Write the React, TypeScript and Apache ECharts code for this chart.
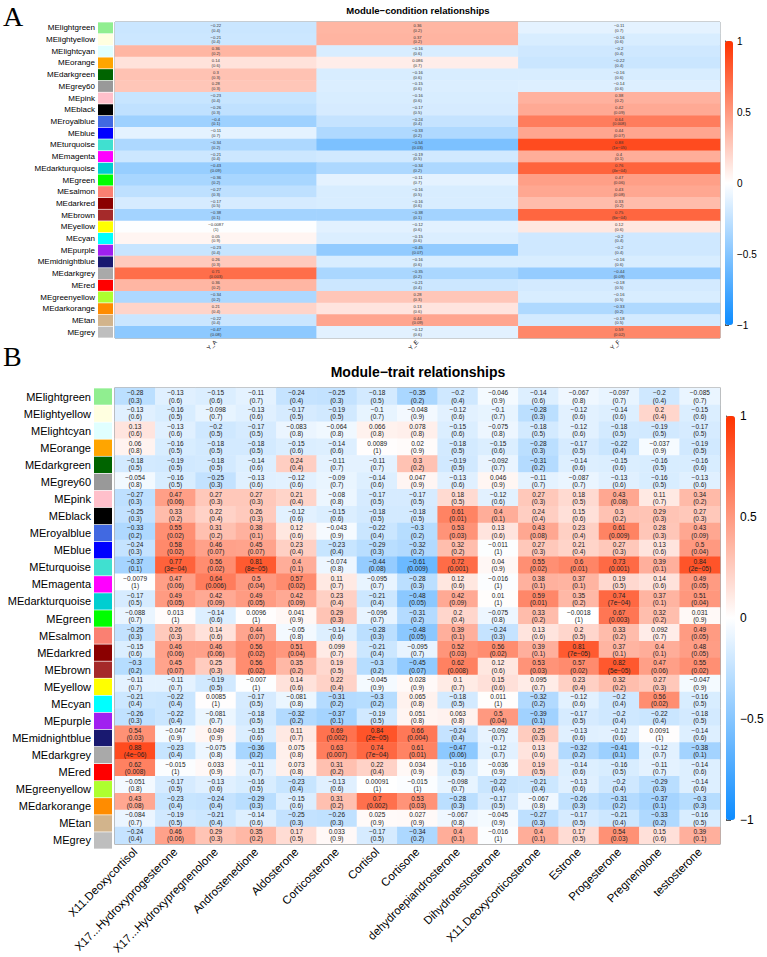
import React, { useEffect, useRef } from "react";
import * as echarts from "echarts";

// Module eigengenes (rows) and their colour swatches
const modules = [
  "MElightgreen", "MElightyellow", "MElightcyan", "MEorange", "MEdarkgreen", "MEgrey60",
  "MEpink", "MEblack", "MEroyalblue", "MEblue", "MEturquoise", "MEmagenta",
  "MEdarkturquoise", "MEgreen", "MEsalmon", "MEdarkred", "MEbrown", "MEyellow",
  "MEcyan", "MEpurple", "MEmidnightblue", "MEdarkgrey", "MEred", "MEgreenyellow",
  "MEdarkorange", "MEtan", "MEgrey",
];
const moduleColors = [
  "#90EE90", "#FFFFE0", "#E0FFFF", "#FFA500", "#006400", "#999999",
  "#FFC0CB", "#000000", "#4169E1", "#0000FF", "#40E0D0", "#FF00FF",
  "#00CED1", "#00FF00", "#FA8072", "#8B0000", "#A52A2A", "#FFFF00",
  "#00FFFF", "#A020F0", "#191970", "#A9A9A9", "#FF0000", "#ADFF2F",
  "#FF8C00", "#D2B48C", "#BEBEBE",
];

// Panel A: module-condition correlations and p-values
const conditions = ["Y_A", "Y_E", "Y_F"];
const conditionCor: number[][] = [
  [-0.22, 0.36, -0.11], [-0.21, 0.37, -0.16], [0.36, -0.16, -0.2], [0.14, 0.086, -0.22],
  [0.3, -0.16, -0.16], [0.28, -0.15, -0.14], [-0.23, -0.16, 0.38], [-0.26, -0.17, 0.42],
  [-0.4, -0.24, 0.64], [-0.11, -0.33, 0.44], [-0.34, -0.54, 0.88], [-0.21, -0.19, 0.4],
  [-0.43, -0.34, 0.76], [-0.36, -0.11, 0.47], [-0.27, -0.16, 0.43], [-0.17, -0.16, 0.33],
  [-0.38, -0.38, 0.75], [-0.0087, -0.12, 0.12], [0.05, -0.15, -0.2], [-0.23, -0.45, -0.2],
  [0.26, -0.16, -0.16], [0.71, -0.35, -0.44], [0.36, -0.21, -0.18], [-0.34, 0.28, -0.16],
  [0.21, 0.13, -0.33], [-0.22, 0.44, -0.18], [-0.47, -0.12, 0.59],
];
const conditionP: string[][] = [
  ["0.4", "0.2", "0.7"], ["0.4", "0.2", "0.6"], ["0.2", "0.6", "0.4"], ["0.6", "0.7", "0.4"],
  ["0.3", "0.6", "0.6"], ["0.3", "0.6", "0.6"], ["0.4", "0.6", "0.2"], ["0.3", "0.5", "0.09"],
  ["0.1", "0.4", "0.008"], ["0.7", "0.2", "0.07"], ["0.2", "0.03", "1e-05"], ["0.4", "0.5", "0.1"],
  ["0.09", "0.2", "4e-04"], ["0.2", "0.7", "0.06"], ["0.3", "0.5", "0.08"], ["0.5", "0.6", "0.2"],
  ["0.1", "0.1", "6e-04"], ["1", "0.6", "0.6"], ["0.9", "0.6", "0.4"], ["0.4", "0.07", "0.4"],
  ["0.3", "0.6", "0.6"], ["0.003", "0.2", "0.09"], ["0.2", "0.4", "0.5"], ["0.2", "0.3", "0.5"],
  ["0.4", "0.6", "0.2"], ["0.4", "0.09", "0.5"], ["0.08", "0.6", "0.02"],
];

// Panel B: module-trait correlations and p-values
const traits = [
  "X11.Deoxycortisol", "X17...Hydroxyprogesterone", "X17...Hydroxypregnenolone",
  "Androstenedione", "Aldosterone", "Corticosterone", "Cortisol", "Cortisone",
  "dehydroepiandrosterone", "Dihydrotestosterone", "X11.Deoxycorticosterone",
  "Estrone", "Progesterone", "Pregnenolone", "testosterone",
];
const traitCor: number[][] = [
  [-0.28, -0.13, -0.15, -0.11, -0.24, -0.25, -0.18, -0.35, -0.2, -0.046, -0.14, -0.067, -0.097, -0.2, -0.085],
  [-0.13, -0.16, -0.098, -0.13, -0.17, -0.19, -0.1, -0.048, -0.12, -0.1, -0.28, -0.12, -0.14, 0.2, -0.15],
  [0.13, -0.13, -0.2, -0.17, -0.083, -0.064, 0.066, 0.078, -0.15, -0.075, -0.18, -0.12, -0.18, -0.19, -0.17],
  [0.06, -0.16, -0.18, -0.18, -0.15, -0.14, 0.0089, 0.02, -0.18, -0.15, -0.28, -0.17, -0.22, -0.037, -0.19],
  [-0.18, -0.19, -0.18, -0.14, 0.24, -0.11, -0.11, 0.3, -0.19, -0.092, -0.31, -0.14, -0.15, -0.16, -0.16],
  [-0.054, -0.16, -0.25, -0.13, -0.12, -0.09, -0.14, 0.047, -0.13, 0.046, -0.11, -0.087, -0.13, -0.16, -0.13],
  [-0.27, 0.47, 0.27, 0.27, 0.21, -0.08, -0.17, -0.17, 0.18, -0.12, 0.27, 0.18, 0.43, 0.11, 0.34],
  [-0.25, 0.33, 0.22, 0.26, -0.12, -0.15, -0.18, -0.18, 0.61, 0.4, 0.24, 0.15, 0.3, 0.29, 0.27],
  [-0.33, 0.55, 0.31, 0.38, 0.12, -0.043, -0.22, -0.3, 0.53, 0.13, 0.43, 0.23, 0.61, 0.28, 0.43],
  [-0.24, 0.58, 0.46, 0.45, 0.23, -0.23, -0.29, -0.32, 0.32, -0.011, 0.27, 0.21, 0.27, 0.13, 0.5],
  [-0.37, 0.77, 0.56, 0.81, 0.4, -0.074, -0.44, -0.61, 0.72, 0.04, 0.55, 0.6, 0.73, 0.39, 0.84],
  [-0.0079, 0.47, 0.64, 0.5, 0.57, 0.11, -0.095, -0.28, 0.12, -0.016, 0.38, 0.37, 0.19, 0.14, 0.49],
  [-0.17, 0.49, 0.42, 0.49, 0.42, 0.23, -0.21, -0.48, 0.42, 0.01, 0.59, 0.35, 0.74, 0.37, 0.51],
  [-0.088, 0.013, -0.14, 0.0096, 0.041, 0.29, -0.096, -0.31, 0.2, -0.075, 0.33, -0.0018, 0.67, 0.32, 0.031],
  [-0.25, 0.26, 0.14, 0.44, -0.05, -0.14, -0.28, -0.48, 0.39, -0.24, 0.13, 0.2, 0.33, 0.092, 0.49],
  [-0.15, 0.46, 0.46, 0.56, 0.51, 0.099, -0.21, -0.095, 0.52, 0.56, 0.39, 0.81, 0.37, 0.4, 0.48],
  [-0.3, 0.45, 0.25, 0.56, 0.35, 0.19, -0.3, -0.45, 0.62, 0.12, 0.53, 0.57, 0.82, 0.47, 0.55],
  [-0.11, -0.11, -0.19, -0.007, 0.14, 0.22, -0.045, 0.028, 0.1, 0.15, 0.095, 0.23, 0.32, 0.27, -0.047],
  [-0.21, -0.22, 0.0085, -0.17, -0.081, -0.31, -0.3, 0.065, -0.18, 0.011, -0.32, -0.12, -0.2, 0.56, -0.16],
  [-0.26, -0.22, -0.081, -0.18, -0.32, -0.37, -0.19, 0.051, 0.063, 0.5, -0.39, -0.17, -0.2, -0.22, -0.18],
  [0.54, -0.047, 0.049, -0.15, 0.11, 0.69, 0.84, 0.66, -0.24, -0.092, 0.25, -0.13, -0.12, 0.0091, -0.14],
  [0.88, -0.23, -0.075, -0.36, 0.075, 0.63, 0.74, 0.61, -0.47, -0.12, 0.13, -0.32, -0.41, -0.12, -0.38],
  [0.62, -0.015, 0.033, -0.11, 0.073, 0.31, 0.22, 0.034, -0.16, -0.036, 0.19, -0.14, -0.16, -0.11, -0.14],
  [-0.051, -0.17, -0.13, -0.16, -0.23, -0.13, 0.00091, -0.015, -0.098, -0.22, -0.21, -0.13, -0.2, -0.29, -0.14],
  [0.43, -0.23, -0.24, -0.29, -0.15, 0.31, 0.7, 0.53, -0.28, -0.17, -0.067, -0.26, -0.31, -0.37, -0.3],
  [-0.084, -0.19, -0.21, -0.14, -0.25, -0.26, 0.025, 0.027, -0.067, -0.045, -0.27, -0.17, -0.21, -0.33, -0.16],
  [-0.24, 0.46, 0.29, 0.35, 0.17, 0.033, -0.17, -0.34, 0.4, -0.016, 0.4, 0.17, 0.54, 0.15, 0.39],
];
const traitP: string[][] = [
  ["0.3", "0.6", "0.6", "0.7", "0.4", "0.3", "0.5", "0.2", "0.4", "0.9", "0.6", "0.8", "0.7", "0.4", "0.7"],
  ["0.6", "0.5", "0.7", "0.6", "0.5", "0.5", "0.7", "0.9", "0.6", "0.7", "0.3", "0.6", "0.6", "0.4", "0.6"],
  ["0.6", "0.6", "0.5", "0.5", "0.8", "0.8", "0.8", "0.8", "0.6", "0.8", "0.5", "0.6", "0.5", "0.5", "0.5"],
  ["0.8", "0.5", "0.5", "0.5", "0.6", "0.6", "1", "0.9", "0.5", "0.6", "0.3", "0.5", "0.4", "0.9", "0.5"],
  ["0.5", "0.5", "0.5", "0.6", "0.4", "0.7", "0.7", "0.2", "0.5", "0.7", "0.2", "0.6", "0.6", "0.5", "0.6"],
  ["0.8", "0.5", "0.3", "0.6", "0.6", "0.7", "0.6", "0.9", "0.6", "0.9", "0.7", "0.7", "0.6", "0.5", "0.6"],
  ["0.3", "0.06", "0.3", "0.3", "0.4", "0.8", "0.5", "0.5", "0.5", "0.6", "0.3", "0.5", "0.08", "0.7", "0.2"],
  ["0.3", "0.2", "0.4", "0.3", "0.6", "0.6", "0.5", "0.5", "0.01", "0.1", "0.4", "0.6", "0.2", "0.3", "0.3"],
  ["0.2", "0.02", "0.2", "0.1", "0.6", "0.9", "0.4", "0.2", "0.03", "0.6", "0.08", "0.4", "0.009", "0.3", "0.09"],
  ["0.3", "0.02", "0.07", "0.07", "0.4", "0.4", "0.3", "0.2", "0.2", "1", "0.3", "0.4", "0.3", "0.6", "0.04"],
  ["0.1", "3e-04", "0.02", "8e-05", "0.1", "0.8", "0.08", "0.009", "0.001", "0.9", "0.02", "0.01", "0.001", "0.1", "2e-05"],
  ["1", "0.06", "0.006", "0.04", "0.02", "0.7", "0.7", "0.3", "0.6", "1", "0.1", "0.1", "0.5", "0.6", "0.05"],
  ["0.5", "0.05", "0.09", "0.05", "0.09", "0.4", "0.4", "0.05", "0.09", "1", "0.01", "0.2", "7e-04", "0.1", "0.04"],
  ["0.7", "1", "0.6", "1", "0.9", "0.3", "0.7", "0.2", "0.4", "0.8", "0.2", "1", "0.003", "0.2", "0.9"],
  ["0.3", "0.3", "0.6", "0.07", "0.8", "0.6", "0.3", "0.05", "0.1", "0.3", "0.6", "0.5", "0.2", "0.7", "0.05"],
  ["0.6", "0.06", "0.06", "0.02", "0.04", "0.7", "0.4", "0.7", "0.03", "0.02", "0.1", "7e-05", "0.1", "0.1", "0.05"],
  ["0.2", "0.07", "0.3", "0.02", "0.2", "0.5", "0.2", "0.07", "0.008", "0.6", "0.03", "0.02", "5e-05", "0.06", "0.02"],
  ["0.7", "0.7", "0.5", "1", "0.6", "0.4", "0.9", "0.9", "0.7", "0.6", "0.7", "0.4", "0.2", "0.3", "0.9"],
  ["0.4", "0.4", "1", "0.5", "0.8", "0.2", "0.2", "0.8", "0.5", "1", "0.2", "0.6", "0.4", "0.02", "0.5"],
  ["0.3", "0.4", "0.7", "0.5", "0.2", "0.1", "0.5", "0.8", "0.8", "0.04", "0.1", "0.5", "0.4", "0.4", "0.5"],
  ["0.03", "0.9", "0.9", "0.6", "0.7", "0.002", "2e-05", "0.004", "0.4", "0.7", "0.3", "0.6", "0.6", "1", "0.6"],
  ["4e-06", "0.4", "0.8", "0.2", "0.8", "0.007", "7e-04", "0.01", "0.06", "0.7", "0.6", "0.2", "0.1", "0.7", "0.1"],
  ["0.008", "1", "0.9", "0.7", "0.8", "0.2", "0.4", "0.9", "0.5", "0.9", "0.5", "0.6", "0.5", "0.7", "0.6"],
  ["0.8", "0.5", "0.6", "0.5", "0.4", "0.6", "1", "1", "0.7", "0.4", "0.4", "0.6", "0.4", "0.3", "0.6"],
  ["0.08", "0.4", "0.4", "0.3", "0.6", "0.2", "0.002", "0.03", "0.3", "0.5", "0.8", "0.3", "0.2", "0.1", "0.3"],
  ["0.7", "0.5", "0.4", "0.6", "0.3", "0.3", "0.9", "0.9", "0.8", "0.9", "0.3", "0.5", "0.4", "0.2", "0.5"],
  ["0.4", "0.06", "0.3", "0.2", "0.5", "0.9", "0.5", "0.2", "0.1", "1", "0.1", "0.5", "0.03", "0.6", "0.1"],
];

// Colour scale range and the blue-white-red ramp
const scaleTicks = [-1, -0.5, 0, 0.5, 1];
const rampColors = ["#0D8CFF", "#FFFFFF", "#FF3300"];

const FONT = "Liberation Sans";
const minus = (s: string) => s.replace(/-/g, "\u2212");

const toCells = (cor: number[][]) =>
  cor.flatMap((row, i) => row.map((v, j) => [j, i, v]));

const swatchData = modules.map((_, i) => [0, i, i]);

// Colour swatch next to each module name
const renderSwatch = (_params: any, api: any) => {
  const c = api.coord([api.value(0), api.value(1)]);
  const s = api.size([1, 1]);
  return {
    type: "rect",
    shape: { x: c[0] - s[0] / 2, y: c[1] - s[1] / 2 + 0.35, width: s[0], height: s[1] - 0.7 },
    style: { fill: moduleColors[api.value(2)] },
  };
};

export default function App() {
  const ref = useRef<HTMLDivElement>(null);

  useEffect(() => {
    if (!ref.current) return;
    const chart = echarts.init(ref.current, undefined, { renderer: "svg" });

    const hidden = { show: false };
    const plainCat = (data: string[], grid: number) => ({
      type: "category" as const,
      data,
      gridIndex: grid,
      show: false,
    });
    const tickFmt = (v: number) => minus(String(v));

    const option: any = {
      animation: false,
      textStyle: { fontFamily: FONT },
      graphic: [
        {
          type: "text", x: 3, y: 2,
          style: { text: "A", fontFamily: "Liberation Serif", fontSize: 28, fill: "#000" },
        },
        {
          type: "text", x: 418, y: 10,
          style: {
            text: "Module\u2212condition relationships", fontFamily: FONT, fontSize: 9.5,
            fontWeight: "bold", fill: "#000", align: "center", verticalAlign: "middle",
          },
        },
        {
          type: "text", x: 3, y: 342,
          style: { text: "B", fontFamily: "Liberation Serif", fontSize: 28, fill: "#000" },
        },
        {
          type: "text", x: 418, y: 372,
          style: {
            text: "Module\u2212trait relationships", fontFamily: FONT, fontSize: 14,
            fontWeight: "bold", fill: "#000", align: "center", verticalAlign: "middle",
          },
        },
      ],
      grid: [
        { left: 115, top: 22, width: 605, height: 316, show: true, borderColor: "#888", borderWidth: 1 },
        { left: 98, top: 22, width: 15, height: 316 },
        { left: 725, top: 41, width: 8, height: 284 },
        { left: 115, top: 388, width: 605, height: 461, show: true, borderColor: "#777", borderWidth: 1.2 },
        { left: 94, top: 388, width: 18, height: 461 },
        { left: 726, top: 416, width: 9, height: 404 },
      ],
      xAxis: [
        {
          type: "category", data: conditions, gridIndex: 0,
          axisLine: hidden, axisTick: hidden, splitLine: hidden,
          axisLabel: { rotate: 45, fontSize: 6, margin: 3, color: "#000" },
        },
        plainCat([""], 1),
        { type: "value", gridIndex: 2, min: 0, max: 1, show: false },
        {
          type: "category", data: traits, gridIndex: 3,
          axisLine: hidden, axisTick: hidden, splitLine: hidden,
          axisLabel: { rotate: 45, fontSize: 11.5, margin: 6, color: "#000", interval: 0 },
        },
        plainCat([""], 4),
        { type: "value", gridIndex: 5, min: 0, max: 1, show: false },
      ],
      yAxis: [
        { ...plainCat(modules, 0), inverse: true },
        {
          type: "category", data: modules, gridIndex: 1, inverse: true,
          axisLine: hidden, axisTick: hidden, splitLine: hidden,
          axisLabel: { fontSize: 8, margin: 3, color: "#000", interval: 0 },
        },
        {
          type: "value", gridIndex: 2, min: scaleTicks[0], max: scaleTicks[4], interval: 0.5, position: "right",
          axisLine: { show: true, lineStyle: { color: "#555", width: 1 } },
          axisTick: { show: true, length: 4, lineStyle: { color: "#555" } },
          splitLine: hidden,
          axisLabel: { fontSize: 10, margin: 4, color: "#000", formatter: tickFmt },
        },
        { ...plainCat(modules, 3), inverse: true },
        {
          type: "category", data: modules, gridIndex: 4, inverse: true,
          axisLine: hidden, axisTick: hidden, splitLine: hidden,
          axisLabel: { fontSize: 11, margin: 3, color: "#000", interval: 0 },
        },
        {
          type: "value", gridIndex: 5, min: scaleTicks[0], max: scaleTicks[4], interval: 0.5, position: "right",
          axisLine: { show: true, lineStyle: { color: "#555", width: 1 } },
          axisTick: { show: true, length: 5, lineStyle: { color: "#555" } },
          splitLine: hidden,
          axisLabel: { fontSize: 12, margin: 5, color: "#000", formatter: tickFmt },
        },
      ],
      visualMap: [
        {
          type: "continuous", seriesIndex: 0, min: scaleTicks[0], max: scaleTicks[4],
          inRange: { color: rampColors }, left: 725, top: 41, itemWidth: 8, itemHeight: 284,
          padding: 0, calculable: false, hoverLink: false,
        },
        {
          type: "continuous", seriesIndex: 3, min: scaleTicks[0], max: scaleTicks[4],
          inRange: { color: rampColors }, left: 726, top: 416, itemWidth: 9, itemHeight: 404,
          padding: 0, calculable: false, hoverLink: false,
        },
      ],
      series: [
        {
          type: "heatmap", xAxisIndex: 0, yAxisIndex: 0, data: toCells(conditionCor),
          label: {
            show: true, fontSize: 4.2, lineHeight: 4.8, color: "#333",
            formatter: (p: any) => {
              const [j, i] = p.data;
              return `${minus(String(conditionCor[i][j]))}\n(${minus(conditionP[i][j])})`;
            },
          },
          emphasis: { disabled: true },
        },
        {
          type: "custom", xAxisIndex: 1, yAxisIndex: 1, data: swatchData,
          renderItem: renderSwatch, silent: true,
        },
        { type: "scatter", xAxisIndex: 2, yAxisIndex: 2, data: [] },
        {
          type: "heatmap", xAxisIndex: 3, yAxisIndex: 3, data: toCells(traitCor),
          label: {
            show: true, fontSize: 6.5, lineHeight: 7.2, color: "#222",
            formatter: (p: any) => {
              const [j, i] = p.data;
              return `${minus(String(traitCor[i][j]))}\n(${minus(traitP[i][j])})`;
            },
          },
          emphasis: { disabled: true },
        },
        {
          type: "custom", xAxisIndex: 4, yAxisIndex: 4, data: swatchData,
          renderItem: renderSwatch, silent: true,
        },
        { type: "scatter", xAxisIndex: 5, yAxisIndex: 5, data: [] },
      ],
    };

    chart.setOption(option);
    return () => chart.dispose();
  }, []);

  return (
    <div
      ref={ref}
      style={{ position: "absolute", left: 0, top: 0, width: 767, height: 957, background: "#fff" }}
    />
  );
}
